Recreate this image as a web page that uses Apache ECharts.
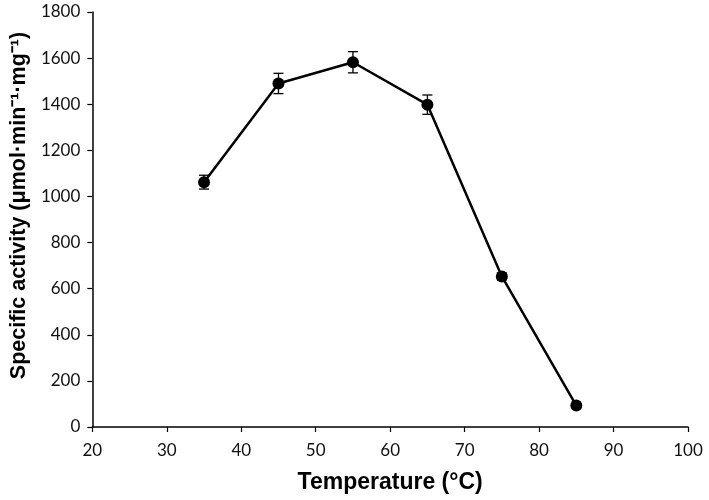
<!DOCTYPE html>
<html>
<head>
<meta charset="utf-8">
<script src="https://cdn.jsdelivr.net/npm/echarts@6/dist/echarts.min.js"></script>
<style>
  html, body { margin: 0; padding: 0; background: #fff; }
  #chart { width: 709px; height: 500px; }
</style>
</head>
<body>
<div id="chart"></div>
<script>
// data
const temperatures = [35, 45, 55, 65, 75, 85];
const activity = [1062, 1490, 1582, 1398, 653, 93];
const errors = [30, 44, 46, 42, 15, 6];
const xTicks = [20, 30, 40, 50, 60, 70, 80, 90, 100];
const yTicks = [0, 200, 400, 600, 800, 1000, 1200, 1400, 1600, 1800];

const points = temperatures.map((t, i) => [t, activity[i]]);
const errData = temperatures.map((t, i) => [t, activity[i] - errors[i], activity[i] + errors[i]]);

const chart = echarts.init(document.getElementById("chart"));

const option = {
  animation: false,
  grid: { left: 91, right: 21, top: 12, bottom: 73 },
  xAxis: {
    type: "value",
    min: xTicks[0],
    max: xTicks[xTicks.length - 1],
    interval: 10,
    name: "Temperature (°C)",
    nameLocation: "middle",
    nameGap: 44,
    nameTextStyle: { fontFamily: "Liberation Sans", fontWeight: "bold", fontSize: 23, color: "#000" },
    splitLine: { show: false },
    axisLine: { lineStyle: { color: "#000", width: 1.5 } },
    axisTick: { length: 5, lineStyle: { color: "#000", width: 1.2 } },
    axisLabel: { fontFamily: "Lato", fontSize: 17, color: "#111", margin: 15, formatter: (v) => String(v) },
  },
  yAxis: {
    type: "value",
    min: yTicks[0],
    max: yTicks[yTicks.length - 1],
    interval: 200,
    name: "Specific activity (μmol·min⁻¹·mg⁻¹)",
    nameLocation: "middle",
    nameGap: 57,
    // left padding nudges the rotated title up a little, as in the figure
    nameTextStyle: { fontFamily: "Liberation Sans", fontWeight: "bold", fontSize: 21.5, color: "#000", padding: [0, 0, 0, 28] },
    splitLine: { show: false },
    axisLine: { show: true, lineStyle: { color: "#000", width: 1.5 } },
    axisTick: { show: true, length: 5, lineStyle: { color: "#000", width: 1.2 } },
    axisLabel: { fontFamily: "Lato", fontSize: 17, color: "#111", margin: 12, formatter: (v) => String(v) },
  },
  series: [
    {
      // error bars
      type: "custom",
      z: 3,
      data: errData,
      renderItem: (params, api) => {
        const x = api.value(0);
        const lo = api.coord([x, api.value(1)]);
        const hi = api.coord([x, api.value(2)]);
        const w = 5;
        const style = { stroke: "#000", lineWidth: 1.3 };
        return {
          type: "group",
          children: [
            { type: "line", shape: { x1: lo[0], y1: lo[1], x2: hi[0], y2: hi[1] }, style },
            { type: "line", shape: { x1: lo[0] - w, y1: lo[1], x2: lo[0] + w, y2: lo[1] }, style },
            { type: "line", shape: { x1: hi[0] - w, y1: hi[1], x2: hi[0] + w, y2: hi[1] }, style },
          ],
        };
      },
    },
    {
      type: "line",
      z: 4,
      data: points,
      symbol: "circle",
      symbolSize: 12,
      lineStyle: { color: "#000", width: 2.5 },
      itemStyle: { color: "#000" },
    },
  ],
};

chart.setOption(option);
</script>
</body>
</html>
